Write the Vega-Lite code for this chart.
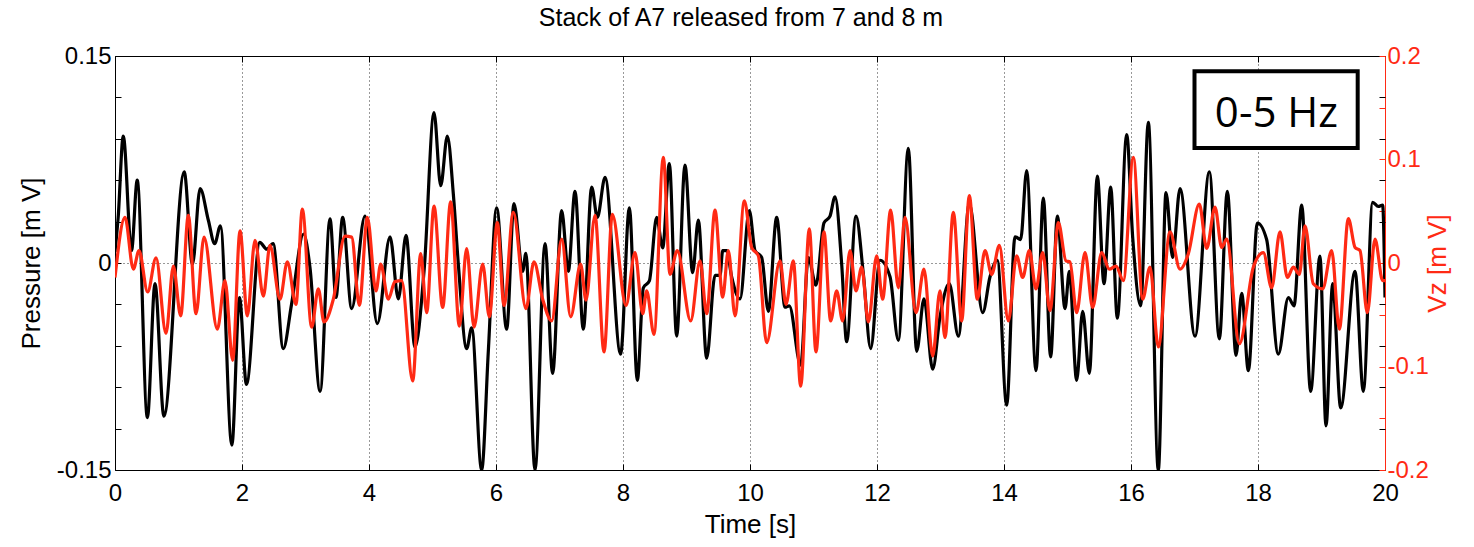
{
  "$schema": "https://vega.github.io/schema/vega-lite/v6.json",
  "width": 1270,
  "height": 414,
  "autosize": {"type": "none"},
  "padding": {"left": 115, "top": 56, "right": 89, "bottom": 77},
  "background": "white",
  "title": {"text": "Stack of A7 released from 7 and 8 m", "fontSize": 25, "font": "Liberation Sans", "fontWeight": "normal", "offset": 13, "frame": "group", "anchor": "middle", "dx": -9, "color": "#000"},
  "config": {
    "view": {"stroke": "#000", "strokeWidth": 1},
    "font": "Liberation Sans",
    "axis": {"labelFont": "Liberation Sans", "titleFont": "Liberation Sans", "labelFontSize": 24, "titleFontSize": 26, "titleFontWeight": "normal", "labelColor": "#000", "titleColor": "#000", "tickColor": "#000", "domainColor": "#000"}
  },
  "datasets": {
    "pressure": [
      {"t": 0, "p": 0.008}, {"t": 0.05, "p": 0.033}, {"t": 0.13, "p": 0.092}, {"t": 0.26, "p": 0.009}, {"t": 0.35, "p": 0.06},
      {"t": 0.51, "p": -0.112}, {"t": 0.63, "p": -0.015}, {"t": 0.77, "p": -0.111}, {"t": 1.09, "p": 0.066}, {"t": 1.22, "p": -0.001},
      {"t": 1.34, "p": 0.054}, {"t": 1.47, "p": 0.031}, {"t": 1.57, "p": 0.014}, {"t": 1.66, "p": 0.027}, {"t": 1.84, "p": -0.132},
      {"t": 1.96, "p": -0.025}, {"t": 2.07, "p": -0.088}, {"t": 2.28, "p": 0.015}, {"t": 2.39, "p": 0.01}, {"t": 2.49, "p": 0.014},
      {"t": 2.65, "p": -0.062}, {"t": 2.78, "p": -0.03}, {"t": 2.97, "p": 0.021}, {"t": 3.07, "p": -0.003}, {"t": 3.23, "p": -0.093},
      {"t": 3.386, "p": 0.032}, {"t": 3.48, "p": -0.025}, {"t": 3.585, "p": 0.033}, {"t": 3.727, "p": -0.033}, {"t": 3.937, "p": 0.034},
      {"t": 4.131, "p": -0.044}, {"t": 4.331, "p": 0.019}, {"t": 4.462, "p": -0.026}, {"t": 4.583, "p": 0.02}, {"t": 4.724, "p": -0.061},
      {"t": 4.87, "p": -0.004}, {"t": 5.024, "p": 0.109}, {"t": 5.129, "p": 0.056}, {"t": 5.234, "p": 0.092}, {"t": 5.328, "p": 0.05},
      {"t": 5.407, "p": -0.001}, {"t": 5.538, "p": -0.062}, {"t": 5.617, "p": -0.047}, {"t": 5.774, "p": -0.15}, {"t": 5.879, "p": -0.064},
      {"t": 6.01, "p": 0.04}, {"t": 6.168, "p": -0.048}, {"t": 6.283, "p": 0.043}, {"t": 6.42, "p": -0.006}, {"t": 6.47, "p": 0.007},
      {"t": 6.614, "p": -0.15}, {"t": 6.772, "p": 0.014}, {"t": 6.892, "p": -0.08}, {"t": 7.034, "p": 0.038}, {"t": 7.139, "p": -0.006},
      {"t": 7.244, "p": 0.052}, {"t": 7.375, "p": -0.048}, {"t": 7.507, "p": 0.055}, {"t": 7.596, "p": 0.033}, {"t": 7.717, "p": 0.062},
      {"t": 7.963, "p": -0.066}, {"t": 8.1, "p": 0.04}, {"t": 8.226, "p": -0.085}, {"t": 8.32, "p": -0.018}, {"t": 8.415, "p": -0.013},
      {"t": 8.53, "p": 0.033}, {"t": 8.625, "p": 0.011}, {"t": 8.73, "p": 0.072}, {"t": 8.845, "p": -0.053}, {"t": 8.976, "p": 0.071},
      {"t": 9.097, "p": -0.007}, {"t": 9.186, "p": 0.031}, {"t": 9.318, "p": -0.069}, {"t": 9.449, "p": -0.009}, {"t": 9.528, "p": -0.009},
      {"t": 9.57, "p": 0.009}, {"t": 9.633, "p": 0.009}, {"t": 9.711, "p": -0.01}, {"t": 9.843, "p": -0.026}, {"t": 9.99, "p": 0.038},
      {"t": 10.079, "p": 0.009}, {"t": 10.184, "p": 0.004}, {"t": 10.289, "p": -0.035}, {"t": 10.42, "p": 0.033}, {"t": 10.551, "p": -0.032},
      {"t": 10.619, "p": -0.031}, {"t": 10.798, "p": -0.074}, {"t": 10.919, "p": 0.004}, {"t": 11.039, "p": -0.016}, {"t": 11.165, "p": 0.029},
      {"t": 11.26, "p": 0.034}, {"t": 11.339, "p": 0.048}, {"t": 11.444, "p": -0.001}, {"t": 11.522, "p": -0.057}, {"t": 11.669, "p": 0.034},
      {"t": 11.785, "p": -0.008}, {"t": 11.9, "p": -0.062}, {"t": 12.047, "p": 0.002}, {"t": 12.205, "p": -0.01}, {"t": 12.336, "p": -0.056},
      {"t": 12.493, "p": 0.083}, {"t": 12.625, "p": -0.064}, {"t": 12.74, "p": -0.026}, {"t": 12.877, "p": -0.077}, {"t": 12.992, "p": -0.039},
      {"t": 13.139, "p": -0.015}, {"t": 13.281, "p": -0.053}, {"t": 13.454, "p": 0.043}, {"t": 13.664, "p": -0.036}, {"t": 13.78, "p": -0.01},
      {"t": 13.895, "p": 0.002}, {"t": 14.042, "p": -0.103}, {"t": 14.173, "p": 0.019}, {"t": 14.262, "p": 0.017}, {"t": 14.357, "p": 0.067},
      {"t": 14.504, "p": -0.078}, {"t": 14.619, "p": 0.047}, {"t": 14.735, "p": -0.068}, {"t": 14.84, "p": 0.034}, {"t": 14.961, "p": -0.033},
      {"t": 15.029, "p": -0.006}, {"t": 15.144, "p": -0.085}, {"t": 15.239, "p": -0.035}, {"t": 15.344, "p": -0.08}, {"t": 15.47, "p": 0.063},
      {"t": 15.575, "p": -0.015}, {"t": 15.68, "p": 0.055}, {"t": 15.785, "p": -0.04}, {"t": 15.932, "p": 0.093}, {"t": 16.026, "p": 0.019},
      {"t": 16.152, "p": -0.031}, {"t": 16.273, "p": 0.102}, {"t": 16.43, "p": -0.15}, {"t": 16.551, "p": 0.051}, {"t": 16.656, "p": 0.004},
      {"t": 16.772, "p": 0.054}, {"t": 17.008, "p": -0.053}, {"t": 17.234, "p": 0.066}, {"t": 17.391, "p": -0.055}, {"t": 17.517, "p": 0.052},
      {"t": 17.654, "p": -0.067}, {"t": 17.743, "p": -0.022}, {"t": 17.848, "p": -0.078}, {"t": 17.99, "p": 0.029}, {"t": 18.136, "p": 0.017},
      {"t": 18.32, "p": -0.066}, {"t": 18.478, "p": -0.025}, {"t": 18.567, "p": -0.031}, {"t": 18.688, "p": 0.042}, {"t": 18.829, "p": -0.093},
      {"t": 18.976, "p": 0.005}, {"t": 19.071, "p": -0.118}, {"t": 19.176, "p": -0.015}, {"t": 19.302, "p": -0.105}, {"t": 19.528, "p": -0.006},
      {"t": 19.659, "p": -0.093}, {"t": 19.806, "p": 0.044}, {"t": 19.895, "p": 0.041}, {"t": 19.963, "p": 0.042}, {"t": 20.0, "p": -0.025}
    ],
    "vz": [
      {"t": 0, "v": -0.014}, {"t": 0.157, "v": 0.044}, {"t": 0.289, "v": -0.006}, {"t": 0.378, "v": 0.012}, {"t": 0.514, "v": -0.028},
      {"t": 0.646, "v": 0.005}, {"t": 0.803, "v": -0.068}, {"t": 0.919, "v": -0.003}, {"t": 1.034, "v": -0.051}, {"t": 1.155, "v": 0.046},
      {"t": 1.276, "v": -0.049}, {"t": 1.402, "v": 0.025}, {"t": 1.612, "v": -0.064}, {"t": 1.732, "v": -0.017}, {"t": 1.853, "v": -0.094},
      {"t": 1.969, "v": 0.031}, {"t": 2.084, "v": -0.051}, {"t": 2.205, "v": 0.022}, {"t": 2.336, "v": -0.032}, {"t": 2.441, "v": 0.017},
      {"t": 2.598, "v": -0.035}, {"t": 2.714, "v": 0.001}, {"t": 2.85, "v": -0.04}, {"t": 2.95, "v": 0.052}, {"t": 3.097, "v": -0.062},
      {"t": 3.202, "v": -0.025}, {"t": 3.291, "v": -0.057}, {"t": 3.438, "v": -0.035}, {"t": 3.622, "v": 0.026}, {"t": 3.727, "v": 0.025},
      {"t": 3.848, "v": -0.041}, {"t": 3.974, "v": 0.044}, {"t": 4.11, "v": -0.027}, {"t": 4.184, "v": -0.001}, {"t": 4.304, "v": -0.035},
      {"t": 4.409, "v": -0.018}, {"t": 4.514, "v": -0.017}, {"t": 4.688, "v": -0.114}, {"t": 4.814, "v": 0.009}, {"t": 4.908, "v": -0.048},
      {"t": 5.024, "v": 0.055}, {"t": 5.16, "v": -0.043}, {"t": 5.286, "v": 0.059}, {"t": 5.423, "v": -0.061}, {"t": 5.538, "v": 0.014},
      {"t": 5.654, "v": -0.062}, {"t": 5.79, "v": -0.001}, {"t": 5.895, "v": -0.052}, {"t": 6.021, "v": 0.039}, {"t": 6.126, "v": -0.041},
      {"t": 6.273, "v": 0.049}, {"t": 6.472, "v": -0.044}, {"t": 6.598, "v": 0.001}, {"t": 6.735, "v": -0.035}, {"t": 6.877, "v": -0.056},
      {"t": 7.034, "v": 0.023}, {"t": 7.176, "v": -0.052}, {"t": 7.333, "v": -0.001}, {"t": 7.417, "v": -0.036}, {"t": 7.559, "v": 0.046},
      {"t": 7.701, "v": -0.086}, {"t": 7.832, "v": 0.047}, {"t": 8.047, "v": -0.041}, {"t": 8.189, "v": 0.01}, {"t": 8.31, "v": -0.049},
      {"t": 8.373, "v": -0.027}, {"t": 8.488, "v": -0.069}, {"t": 8.635, "v": 0.102}, {"t": 8.74, "v": -0.011}, {"t": 8.855, "v": 0.012},
      {"t": 9.066, "v": -0.056}, {"t": 9.213, "v": 0.002}, {"t": 9.318, "v": -0.049}, {"t": 9.449, "v": 0.051}, {"t": 9.57, "v": -0.033},
      {"t": 9.659, "v": 0.012}, {"t": 9.764, "v": -0.051}, {"t": 9.911, "v": 0.06}, {"t": 10.026, "v": 0.015}, {"t": 10.131, "v": 0.007},
      {"t": 10.262, "v": -0.077}, {"t": 10.472, "v": 0.002}, {"t": 10.567, "v": -0.04}, {"t": 10.682, "v": 0.002}, {"t": 10.798, "v": -0.119},
      {"t": 10.934, "v": 0.033}, {"t": 11.039, "v": -0.086}, {"t": 11.165, "v": 0.03}, {"t": 11.27, "v": -0.056}, {"t": 11.365, "v": -0.027},
      {"t": 11.459, "v": -0.056}, {"t": 11.575, "v": 0.012}, {"t": 11.669, "v": -0.027}, {"t": 11.759, "v": -0.004}, {"t": 11.864, "v": -0.057},
      {"t": 11.995, "v": 0.007}, {"t": 12.089, "v": -0.035}, {"t": 12.215, "v": 0.051}, {"t": 12.336, "v": -0.024}, {"t": 12.441, "v": 0.044},
      {"t": 12.614, "v": -0.048}, {"t": 12.74, "v": -0.006}, {"t": 12.877, "v": -0.09}, {"t": 12.992, "v": -0.027}, {"t": 13.071, "v": -0.072},
      {"t": 13.202, "v": 0.049}, {"t": 13.333, "v": -0.056}, {"t": 13.454, "v": 0.065}, {"t": 13.58, "v": -0.035}, {"t": 13.701, "v": 0.012},
      {"t": 13.806, "v": -0.011}, {"t": 13.927, "v": 0.017}, {"t": 14.068, "v": -0.056}, {"t": 14.199, "v": 0.007}, {"t": 14.294, "v": -0.014},
      {"t": 14.399, "v": 0.012}, {"t": 14.504, "v": -0.025}, {"t": 14.609, "v": 0.01}, {"t": 14.724, "v": -0.046}, {"t": 14.856, "v": 0.039},
      {"t": 14.976, "v": 0.002}, {"t": 15.039, "v": 0.001}, {"t": 15.144, "v": -0.048}, {"t": 15.276, "v": 0.01}, {"t": 15.396, "v": -0.043},
      {"t": 15.538, "v": 0.01}, {"t": 15.659, "v": -0.006}, {"t": 15.764, "v": -0.003}, {"t": 15.879, "v": -0.017}, {"t": 16.037, "v": 0.102},
      {"t": 16.184, "v": -0.035}, {"t": 16.299, "v": -0.004}, {"t": 16.43, "v": -0.081}, {"t": 16.614, "v": 0.03}, {"t": 16.772, "v": -0.006},
      {"t": 16.903, "v": 0.009}, {"t": 17.076, "v": 0.057}, {"t": 17.192, "v": 0.014}, {"t": 17.323, "v": 0.054}, {"t": 17.428, "v": 0.015},
      {"t": 17.507, "v": 0.023}, {"t": 17.707, "v": -0.078}, {"t": 17.927, "v": -0.004}, {"t": 18.084, "v": 0.01}, {"t": 18.215, "v": -0.024},
      {"t": 18.346, "v": 0.03}, {"t": 18.462, "v": -0.014}, {"t": 18.556, "v": -0.004}, {"t": 18.651, "v": -0.011}, {"t": 18.74, "v": 0.036},
      {"t": 18.871, "v": -0.02}, {"t": 19.018, "v": -0.025}, {"t": 19.16, "v": 0.012}, {"t": 19.281, "v": -0.064}, {"t": 19.423, "v": 0.043},
      {"t": 19.528, "v": 0.015}, {"t": 19.606, "v": 0.012}, {"t": 19.722, "v": -0.048}, {"t": 19.843, "v": 0.023}, {"t": 19.963, "v": -0.017},
      {"t": 20.0, "v": -0.017}
    ],
    "note": [{"label": "0-5 Hz"}]
  },
  "layer": [
    {
      "data": {"name": "pressure"},
      "mark": {"type": "line", "color": "#000000", "strokeWidth": 3.2, "interpolate": "monotone", "clip": true},
      "encoding": {
        "x": {"field": "t", "type": "quantitative", "scale": {"domain": [0, 20], "nice": false, "zero": false},
          "axis": {"values": [0, 2, 4, 6, 8, 10, 12, 14, 16, 18, 20], "title": "Time [s]", "tickSize": -6, "labelPadding": 17, "labelFlush": false, "labelOverlap": false, "grid": true, "gridDash": [1, 3], "gridColor": "#000", "gridOpacity": 0.8, "domain": false, "titlePadding": 6}},
        "y": {"field": "p", "type": "quantitative", "scale": {"domain": [-0.15, 0.15], "nice": false, "zero": false},
          "axis": {"values": [-0.15, -0.12, -0.09, -0.06, -0.03, 0, 0.03, 0.06, 0.09, 0.12, 0.15], "labelExpr": "datum.value == 0.15 ? '0.15' : datum.value == 0 ? '0' : datum.value == -0.15 ? '-0.15' : ''", "title": "Pressure [m V]", "tickSize": -6, "labelPadding": 10, "labelOverlap": false, "grid": true, "gridDash": [1, 3], "gridColor": "#000", "gridOpacity": {"condition": {"test": "datum.value == 0", "value": 0.8}, "value": 0}, "domain": false, "titlePadding": 12}}
      }
    },
    {
      "data": {"name": "vz"},
      "mark": {"type": "line", "color": "#ff2a14", "strokeWidth": 3.2, "interpolate": "monotone", "clip": true},
      "encoding": {
        "x": {"field": "t", "type": "quantitative", "scale": {"domain": [0, 20], "nice": false, "zero": false},
          "axis": {"orient": "top", "values": [0, 2, 4, 6, 8, 10, 12, 14, 16, 18, 20], "labels": false, "title": null, "tickSize": -6, "grid": false, "domain": false}},
        "y": {"field": "v", "type": "quantitative", "scale": {"domain": [-0.2, 0.2], "nice": false, "zero": false},
          "axis": {"orient": "right", "values": [-0.2, -0.15, -0.1, -0.05, 0, 0.05, 0.1, 0.15, 0.2], "labelExpr": "datum.value == 0.2 ? '0.2' : datum.value == 0.1 ? '0.1' : datum.value == 0 ? '0' : datum.value == -0.1 ? '-0.1' : datum.value == -0.2 ? '-0.2' : ''", "title": "Vz [m V]", "titleAngle": -90, "tickSize": -6, "labelPadding": 8, "labelOverlap": false, "grid": false, "domain": true, "domainColor": "#ff2a14", "tickColor": "#ff2a14", "labelColor": "#ff2a14", "titleColor": "#ff2a14", "titlePadding": 22}}
      }
    },
    {
      "data": {"name": "note"},
      "layer": [
        {
          "mark": {"type": "rect", "fill": "white", "stroke": "#000", "strokeWidth": 4},
          "encoding": {
            "x": {"datum": 17.0, "type": "quantitative", "scale": {"domain": [0, 20], "nice": false, "zero": false}, "axis": null},
            "x2": {"datum": 19.57},
            "y": {"datum": 0.1389, "type": "quantitative", "scale": {"domain": [-0.15, 0.15], "nice": false, "zero": false},
              "axis": {"orient": "right", "values": [-0.12, -0.09, -0.06, -0.03, 0.03, 0.06, 0.09, 0.12], "labels": false, "title": null, "tickSize": -6, "tickColor": "#000", "grid": false, "domain": false}},
            "y2": {"datum": 0.0833}
          }
        },
        {
          "mark": {"type": "text", "font": "Open Sans", "fontSize": 42, "color": "#000", "align": "center", "baseline": "alphabetic"},
          "encoding": {
            "text": {"field": "label", "type": "nominal"},
            "x": {"datum": 18.29, "type": "quantitative", "scale": {"domain": [0, 20], "nice": false, "zero": false}, "axis": null},
            "y": {"datum": 0.0986, "type": "quantitative", "scale": {"domain": [-0.15, 0.15], "nice": false, "zero": false},
              "axis": {"orient": "right", "values": [-0.12, -0.09, -0.06, -0.03, 0.03, 0.06, 0.09, 0.12], "labels": false, "title": null, "tickSize": -6, "tickColor": "#000", "grid": false, "domain": false}}
          }
        }
      ]
    }
  ],
  "resolve": {"scale": {"x": "independent", "y": "independent"}}
}
